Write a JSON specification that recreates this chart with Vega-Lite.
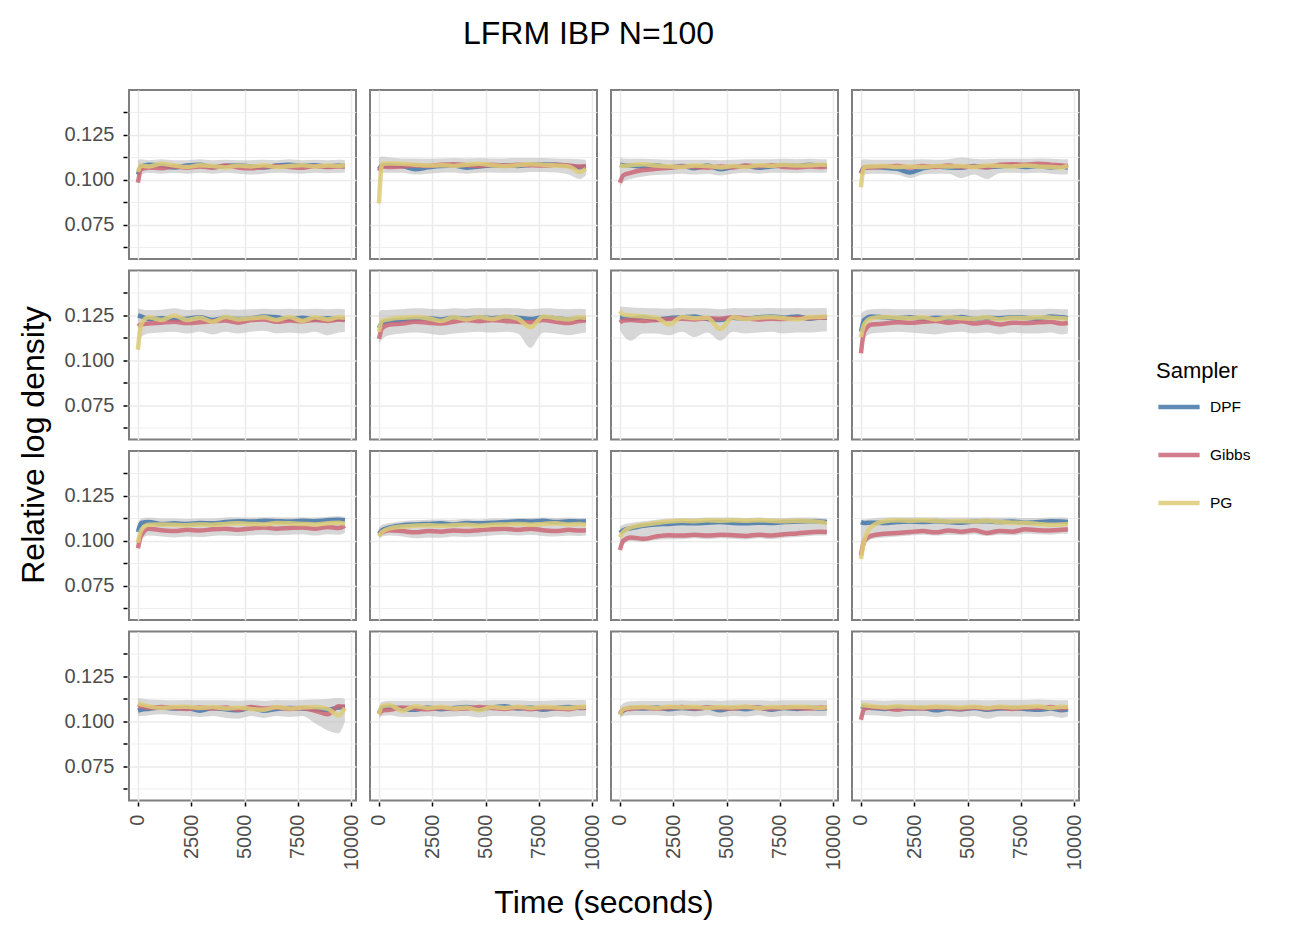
{
"$schema":"https://vega.github.io/schema/vega-lite/v6.json",
"padding":{"left":17,"top":18,"right":10,"bottom":5},
"background":"white",
"title":{"text":"LFRM IBP N=100","fontSize":32,"font":"Liberation Sans","fontWeight":"normal","color":"black","anchor":"middle","offset":38,"dx":-46},
"data":{"values":[
{"r":1,"c":1,"t":0,"DPF":0.1030,"Gibbs":0.0985,"PG":0.1045,"lo":0.0970,"hi":0.1110},
{"r":1,"c":1,"t":150,"DPF":0.1075,"Gibbs":0.1060,"PG":0.1080,"lo":0.1030,"hi":0.1115},
{"r":1,"c":1,"t":500,"DPF":0.1085,"Gibbs":0.1070,"PG":0.1075,"lo":0.1040,"hi":0.1110},
{"r":1,"c":1,"t":1100,"DPF":0.1080,"Gibbs":0.1065,"PG":0.1090,"lo":0.1035,"hi":0.1115},
{"r":1,"c":1,"t":1700,"DPF":0.1070,"Gibbs":0.1075,"PG":0.1080,"lo":0.1040,"hi":0.1110},
{"r":1,"c":1,"t":2300,"DPF":0.1080,"Gibbs":0.1068,"PG":0.1072,"lo":0.1035,"hi":0.1110},
{"r":1,"c":1,"t":2900,"DPF":0.1085,"Gibbs":0.1075,"PG":0.1082,"lo":0.1040,"hi":0.1115},
{"r":1,"c":1,"t":3500,"DPF":0.1072,"Gibbs":0.1068,"PG":0.1078,"lo":0.1035,"hi":0.1110},
{"r":1,"c":1,"t":4100,"DPF":0.1078,"Gibbs":0.1080,"PG":0.1070,"lo":0.1040,"hi":0.1112},
{"r":1,"c":1,"t":4700,"DPF":0.1082,"Gibbs":0.1070,"PG":0.1080,"lo":0.1035,"hi":0.1110},
{"r":1,"c":1,"t":5300,"DPF":0.1075,"Gibbs":0.1065,"PG":0.1075,"lo":0.1030,"hi":0.1110},
{"r":1,"c":1,"t":5900,"DPF":0.1070,"Gibbs":0.1072,"PG":0.1082,"lo":0.1035,"hi":0.1112},
{"r":1,"c":1,"t":6500,"DPF":0.1080,"Gibbs":0.1078,"PG":0.1072,"lo":0.1040,"hi":0.1110},
{"r":1,"c":1,"t":7100,"DPF":0.1085,"Gibbs":0.1072,"PG":0.1078,"lo":0.1038,"hi":0.1115},
{"r":1,"c":1,"t":7700,"DPF":0.1078,"Gibbs":0.1068,"PG":0.1082,"lo":0.1035,"hi":0.1110},
{"r":1,"c":1,"t":8300,"DPF":0.1082,"Gibbs":0.1078,"PG":0.1075,"lo":0.1040,"hi":0.1112},
{"r":1,"c":1,"t":8900,"DPF":0.1075,"Gibbs":0.1072,"PG":0.1080,"lo":0.1038,"hi":0.1110},
{"r":1,"c":1,"t":9400,"DPF":0.1080,"Gibbs":0.1075,"PG":0.1078,"lo":0.1040,"hi":0.1112},
{"r":1,"c":1,"t":9700,"DPF":0.1078,"Gibbs":0.1075,"PG":0.1082,"lo":0.1042,"hi":0.1110},
{"r":1,"c":2,"t":0,"DPF":0.1060,"Gibbs":0.1050,"PG":0.0870,"lo":0.0860,"hi":0.1120},
{"r":1,"c":2,"t":150,"DPF":0.1080,"Gibbs":0.1075,"PG":0.1090,"lo":0.1040,"hi":0.1130},
{"r":1,"c":2,"t":500,"DPF":0.1082,"Gibbs":0.1072,"PG":0.1092,"lo":0.1040,"hi":0.1125},
{"r":1,"c":2,"t":1100,"DPF":0.1078,"Gibbs":0.1075,"PG":0.1090,"lo":0.1040,"hi":0.1120},
{"r":1,"c":2,"t":1700,"DPF":0.1060,"Gibbs":0.1080,"PG":0.1085,"lo":0.1030,"hi":0.1120},
{"r":1,"c":2,"t":2300,"DPF":0.1070,"Gibbs":0.1078,"PG":0.1080,"lo":0.1035,"hi":0.1118},
{"r":1,"c":2,"t":2900,"DPF":0.1078,"Gibbs":0.1085,"PG":0.1082,"lo":0.1040,"hi":0.1120},
{"r":1,"c":2,"t":3500,"DPF":0.1080,"Gibbs":0.1088,"PG":0.1078,"lo":0.1042,"hi":0.1122},
{"r":1,"c":2,"t":4100,"DPF":0.1068,"Gibbs":0.1082,"PG":0.1085,"lo":0.1035,"hi":0.1120},
{"r":1,"c":2,"t":4700,"DPF":0.1075,"Gibbs":0.1078,"PG":0.1090,"lo":0.1040,"hi":0.1122},
{"r":1,"c":2,"t":5300,"DPF":0.1080,"Gibbs":0.1085,"PG":0.1082,"lo":0.1042,"hi":0.1120},
{"r":1,"c":2,"t":5900,"DPF":0.1082,"Gibbs":0.1080,"PG":0.1078,"lo":0.1040,"hi":0.1120},
{"r":1,"c":2,"t":6500,"DPF":0.1078,"Gibbs":0.1085,"PG":0.1082,"lo":0.1040,"hi":0.1122},
{"r":1,"c":2,"t":7100,"DPF":0.1085,"Gibbs":0.1082,"PG":0.1088,"lo":0.1045,"hi":0.1122},
{"r":1,"c":2,"t":7700,"DPF":0.1088,"Gibbs":0.1080,"PG":0.1085,"lo":0.1045,"hi":0.1122},
{"r":1,"c":2,"t":8300,"DPF":0.1085,"Gibbs":0.1085,"PG":0.1080,"lo":0.1042,"hi":0.1120},
{"r":1,"c":2,"t":8900,"DPF":0.1078,"Gibbs":0.1080,"PG":0.1075,"lo":0.1030,"hi":0.1118},
{"r":1,"c":2,"t":9400,"DPF":0.1070,"Gibbs":0.1075,"PG":0.1045,"lo":0.1005,"hi":0.1115},
{"r":1,"c":2,"t":9700,"DPF":0.1072,"Gibbs":0.1078,"PG":0.1062,"lo":0.1025,"hi":0.1112},
{"r":1,"c":3,"t":0,"DPF":0.1085,"Gibbs":0.0985,"PG":0.1080,"lo":0.0960,"hi":0.1125},
{"r":1,"c":3,"t":150,"DPF":0.1082,"Gibbs":0.1025,"PG":0.1078,"lo":0.0990,"hi":0.1120},
{"r":1,"c":3,"t":500,"DPF":0.1080,"Gibbs":0.1040,"PG":0.1082,"lo":0.1005,"hi":0.1118},
{"r":1,"c":3,"t":1100,"DPF":0.1075,"Gibbs":0.1055,"PG":0.1088,"lo":0.1020,"hi":0.1118},
{"r":1,"c":3,"t":1700,"DPF":0.1082,"Gibbs":0.1062,"PG":0.1080,"lo":0.1028,"hi":0.1115},
{"r":1,"c":3,"t":2300,"DPF":0.1070,"Gibbs":0.1068,"PG":0.1075,"lo":0.1030,"hi":0.1112},
{"r":1,"c":3,"t":2900,"DPF":0.1078,"Gibbs":0.1075,"PG":0.1072,"lo":0.1035,"hi":0.1112},
{"r":1,"c":3,"t":3500,"DPF":0.1065,"Gibbs":0.1072,"PG":0.1080,"lo":0.1030,"hi":0.1112},
{"r":1,"c":3,"t":4100,"DPF":0.1080,"Gibbs":0.1068,"PG":0.1078,"lo":0.1035,"hi":0.1112},
{"r":1,"c":3,"t":4700,"DPF":0.1060,"Gibbs":0.1075,"PG":0.1070,"lo":0.1025,"hi":0.1110},
{"r":1,"c":3,"t":5300,"DPF":0.1072,"Gibbs":0.1070,"PG":0.1078,"lo":0.1035,"hi":0.1112},
{"r":1,"c":3,"t":5900,"DPF":0.1078,"Gibbs":0.1080,"PG":0.1072,"lo":0.1040,"hi":0.1115},
{"r":1,"c":3,"t":6500,"DPF":0.1068,"Gibbs":0.1075,"PG":0.1082,"lo":0.1035,"hi":0.1115},
{"r":1,"c":3,"t":7100,"DPF":0.1075,"Gibbs":0.1082,"PG":0.1078,"lo":0.1040,"hi":0.1115},
{"r":1,"c":3,"t":7700,"DPF":0.1082,"Gibbs":0.1072,"PG":0.1085,"lo":0.1040,"hi":0.1118},
{"r":1,"c":3,"t":8300,"DPF":0.1078,"Gibbs":0.1070,"PG":0.1080,"lo":0.1038,"hi":0.1115},
{"r":1,"c":3,"t":8900,"DPF":0.1085,"Gibbs":0.1075,"PG":0.1082,"lo":0.1042,"hi":0.1118},
{"r":1,"c":3,"t":9400,"DPF":0.1080,"Gibbs":0.1072,"PG":0.1085,"lo":0.1040,"hi":0.1115},
{"r":1,"c":3,"t":9700,"DPF":0.1082,"Gibbs":0.1075,"PG":0.1083,"lo":0.1042,"hi":0.1115},
{"r":1,"c":4,"t":0,"DPF":0.1040,"Gibbs":0.1035,"PG":0.0960,"lo":0.0950,"hi":0.1110},
{"r":1,"c":4,"t":150,"DPF":0.1070,"Gibbs":0.1068,"PG":0.1072,"lo":0.1030,"hi":0.1115},
{"r":1,"c":4,"t":500,"DPF":0.1072,"Gibbs":0.1070,"PG":0.1075,"lo":0.1035,"hi":0.1112},
{"r":1,"c":4,"t":1100,"DPF":0.1068,"Gibbs":0.1075,"PG":0.1078,"lo":0.1035,"hi":0.1112},
{"r":1,"c":4,"t":1700,"DPF":0.1062,"Gibbs":0.1078,"PG":0.1072,"lo":0.1030,"hi":0.1112},
{"r":1,"c":4,"t":2300,"DPF":0.1042,"Gibbs":0.1070,"PG":0.1075,"lo":0.1010,"hi":0.1112},
{"r":1,"c":4,"t":2900,"DPF":0.1065,"Gibbs":0.1078,"PG":0.1072,"lo":0.1030,"hi":0.1115},
{"r":1,"c":4,"t":3500,"DPF":0.1075,"Gibbs":0.1072,"PG":0.1078,"lo":0.1035,"hi":0.1112},
{"r":1,"c":4,"t":4100,"DPF":0.1070,"Gibbs":0.1080,"PG":0.1075,"lo":0.1035,"hi":0.1115},
{"r":1,"c":4,"t":4700,"DPF":0.1068,"Gibbs":0.1072,"PG":0.1078,"lo":0.1010,"hi":0.1125},
{"r":1,"c":4,"t":5300,"DPF":0.1078,"Gibbs":0.1075,"PG":0.1072,"lo":0.1030,"hi":0.1118},
{"r":1,"c":4,"t":5900,"DPF":0.1072,"Gibbs":0.1070,"PG":0.1080,"lo":0.1005,"hi":0.1115},
{"r":1,"c":4,"t":6500,"DPF":0.1075,"Gibbs":0.1085,"PG":0.1078,"lo":0.1038,"hi":0.1118},
{"r":1,"c":4,"t":7100,"DPF":0.1080,"Gibbs":0.1088,"PG":0.1075,"lo":0.1040,"hi":0.1118},
{"r":1,"c":4,"t":7700,"DPF":0.1072,"Gibbs":0.1085,"PG":0.1080,"lo":0.1038,"hi":0.1118},
{"r":1,"c":4,"t":8300,"DPF":0.1078,"Gibbs":0.1090,"PG":0.1075,"lo":0.1040,"hi":0.1120},
{"r":1,"c":4,"t":8900,"DPF":0.1070,"Gibbs":0.1085,"PG":0.1072,"lo":0.1035,"hi":0.1118},
{"r":1,"c":4,"t":9400,"DPF":0.1075,"Gibbs":0.1080,"PG":0.1070,"lo":0.1030,"hi":0.1115},
{"r":1,"c":4,"t":9700,"DPF":0.1068,"Gibbs":0.1078,"PG":0.1080,"lo":0.1032,"hi":0.1115},
{"r":2,"c":1,"t":0,"DPF":0.1250,"Gibbs":0.1190,"PG":0.1060,"lo":0.1040,"hi":0.1290},
{"r":2,"c":1,"t":150,"DPF":0.1245,"Gibbs":0.1200,"PG":0.1200,"lo":0.1130,"hi":0.1285},
{"r":2,"c":1,"t":500,"DPF":0.1230,"Gibbs":0.1205,"PG":0.1240,"lo":0.1150,"hi":0.1280},
{"r":2,"c":1,"t":1100,"DPF":0.1235,"Gibbs":0.1210,"PG":0.1225,"lo":0.1155,"hi":0.1282},
{"r":2,"c":1,"t":1700,"DPF":0.1228,"Gibbs":0.1215,"PG":0.1250,"lo":0.1160,"hi":0.1290},
{"r":2,"c":1,"t":2300,"DPF":0.1232,"Gibbs":0.1208,"PG":0.1225,"lo":0.1150,"hi":0.1280},
{"r":2,"c":1,"t":2900,"DPF":0.1240,"Gibbs":0.1212,"PG":0.1238,"lo":0.1160,"hi":0.1285},
{"r":2,"c":1,"t":3500,"DPF":0.1225,"Gibbs":0.1218,"PG":0.1215,"lo":0.1145,"hi":0.1280},
{"r":2,"c":1,"t":4100,"DPF":0.1238,"Gibbs":0.1222,"PG":0.1242,"lo":0.1160,"hi":0.1285},
{"r":2,"c":1,"t":4700,"DPF":0.1230,"Gibbs":0.1210,"PG":0.1228,"lo":0.1150,"hi":0.1282},
{"r":2,"c":1,"t":5300,"DPF":0.1235,"Gibbs":0.1225,"PG":0.1235,"lo":0.1160,"hi":0.1285},
{"r":2,"c":1,"t":5900,"DPF":0.1245,"Gibbs":0.1228,"PG":0.1240,"lo":0.1165,"hi":0.1288},
{"r":2,"c":1,"t":6500,"DPF":0.1240,"Gibbs":0.1215,"PG":0.1225,"lo":0.1150,"hi":0.1285},
{"r":2,"c":1,"t":7100,"DPF":0.1230,"Gibbs":0.1222,"PG":0.1242,"lo":0.1155,"hi":0.1288},
{"r":2,"c":1,"t":7700,"DPF":0.1238,"Gibbs":0.1218,"PG":0.1220,"lo":0.1150,"hi":0.1285},
{"r":2,"c":1,"t":8300,"DPF":0.1228,"Gibbs":0.1225,"PG":0.1240,"lo":0.1160,"hi":0.1288},
{"r":2,"c":1,"t":8900,"DPF":0.1235,"Gibbs":0.1220,"PG":0.1228,"lo":0.1140,"hi":0.1285},
{"r":2,"c":1,"t":9400,"DPF":0.1230,"Gibbs":0.1228,"PG":0.1240,"lo":0.1155,"hi":0.1288},
{"r":2,"c":1,"t":9700,"DPF":0.1232,"Gibbs":0.1225,"PG":0.1238,"lo":0.1160,"hi":0.1285},
{"r":2,"c":2,"t":0,"DPF":0.1180,"Gibbs":0.1120,"PG":0.1160,"lo":0.1090,"hi":0.1270},
{"r":2,"c":2,"t":150,"DPF":0.1210,"Gibbs":0.1180,"PG":0.1220,"lo":0.1120,"hi":0.1280},
{"r":2,"c":2,"t":500,"DPF":0.1220,"Gibbs":0.1200,"PG":0.1230,"lo":0.1140,"hi":0.1282},
{"r":2,"c":2,"t":1100,"DPF":0.1225,"Gibbs":0.1205,"PG":0.1238,"lo":0.1150,"hi":0.1285},
{"r":2,"c":2,"t":1700,"DPF":0.1230,"Gibbs":0.1215,"PG":0.1242,"lo":0.1155,"hi":0.1290},
{"r":2,"c":2,"t":2300,"DPF":0.1235,"Gibbs":0.1210,"PG":0.1235,"lo":0.1150,"hi":0.1288},
{"r":2,"c":2,"t":2900,"DPF":0.1228,"Gibbs":0.1205,"PG":0.1220,"lo":0.1140,"hi":0.1285},
{"r":2,"c":2,"t":3500,"DPF":0.1238,"Gibbs":0.1215,"PG":0.1240,"lo":0.1150,"hi":0.1290},
{"r":2,"c":2,"t":4100,"DPF":0.1232,"Gibbs":0.1225,"PG":0.1228,"lo":0.1155,"hi":0.1288},
{"r":2,"c":2,"t":4700,"DPF":0.1240,"Gibbs":0.1218,"PG":0.1242,"lo":0.1160,"hi":0.1292},
{"r":2,"c":2,"t":5300,"DPF":0.1235,"Gibbs":0.1225,"PG":0.1230,"lo":0.1155,"hi":0.1290},
{"r":2,"c":2,"t":5900,"DPF":0.1242,"Gibbs":0.1220,"PG":0.1245,"lo":0.1160,"hi":0.1292},
{"r":2,"c":2,"t":6500,"DPF":0.1238,"Gibbs":0.1215,"PG":0.1232,"lo":0.1150,"hi":0.1290},
{"r":2,"c":2,"t":7100,"DPF":0.1230,"Gibbs":0.1212,"PG":0.1185,"lo":0.1070,"hi":0.1285},
{"r":2,"c":2,"t":7700,"DPF":0.1240,"Gibbs":0.1225,"PG":0.1245,"lo":0.1155,"hi":0.1290},
{"r":2,"c":2,"t":8300,"DPF":0.1235,"Gibbs":0.1215,"PG":0.1235,"lo":0.1150,"hi":0.1288},
{"r":2,"c":2,"t":8900,"DPF":0.1228,"Gibbs":0.1208,"PG":0.1228,"lo":0.1140,"hi":0.1285},
{"r":2,"c":2,"t":9400,"DPF":0.1232,"Gibbs":0.1220,"PG":0.1240,"lo":0.1150,"hi":0.1288},
{"r":2,"c":2,"t":9700,"DPF":0.1230,"Gibbs":0.1222,"PG":0.1238,"lo":0.1155,"hi":0.1285},
{"r":2,"c":3,"t":0,"DPF":0.1240,"Gibbs":0.1210,"PG":0.1275,"lo":0.1170,"hi":0.1300},
{"r":2,"c":3,"t":150,"DPF":0.1238,"Gibbs":0.1222,"PG":0.1255,"lo":0.1140,"hi":0.1298},
{"r":2,"c":3,"t":500,"DPF":0.1232,"Gibbs":0.1225,"PG":0.1250,"lo":0.1110,"hi":0.1295},
{"r":2,"c":3,"t":1100,"DPF":0.1240,"Gibbs":0.1220,"PG":0.1245,"lo":0.1150,"hi":0.1292},
{"r":2,"c":3,"t":1700,"DPF":0.1228,"Gibbs":0.1225,"PG":0.1238,"lo":0.1150,"hi":0.1290},
{"r":2,"c":3,"t":2300,"DPF":0.1235,"Gibbs":0.1230,"PG":0.1200,"lo":0.1140,"hi":0.1288},
{"r":2,"c":3,"t":2900,"DPF":0.1240,"Gibbs":0.1232,"PG":0.1242,"lo":0.1160,"hi":0.1292},
{"r":2,"c":3,"t":3500,"DPF":0.1245,"Gibbs":0.1228,"PG":0.1235,"lo":0.1130,"hi":0.1290},
{"r":2,"c":3,"t":4100,"DPF":0.1230,"Gibbs":0.1235,"PG":0.1238,"lo":0.1155,"hi":0.1290},
{"r":2,"c":3,"t":4700,"DPF":0.1225,"Gibbs":0.1232,"PG":0.1175,"lo":0.1110,"hi":0.1285},
{"r":2,"c":3,"t":5300,"DPF":0.1238,"Gibbs":0.1240,"PG":0.1240,"lo":0.1160,"hi":0.1292},
{"r":2,"c":3,"t":5900,"DPF":0.1232,"Gibbs":0.1235,"PG":0.1230,"lo":0.1150,"hi":0.1290},
{"r":2,"c":3,"t":6500,"DPF":0.1240,"Gibbs":0.1228,"PG":0.1238,"lo":0.1155,"hi":0.1290},
{"r":2,"c":3,"t":7100,"DPF":0.1245,"Gibbs":0.1232,"PG":0.1242,"lo":0.1160,"hi":0.1292},
{"r":2,"c":3,"t":7700,"DPF":0.1238,"Gibbs":0.1230,"PG":0.1235,"lo":0.1150,"hi":0.1290},
{"r":2,"c":3,"t":8300,"DPF":0.1245,"Gibbs":0.1238,"PG":0.1228,"lo":0.1155,"hi":0.1292},
{"r":2,"c":3,"t":8900,"DPF":0.1232,"Gibbs":0.1235,"PG":0.1240,"lo":0.1155,"hi":0.1290},
{"r":2,"c":3,"t":9400,"DPF":0.1240,"Gibbs":0.1238,"PG":0.1242,"lo":0.1160,"hi":0.1292},
{"r":2,"c":3,"t":9700,"DPF":0.1238,"Gibbs":0.1240,"PG":0.1245,"lo":0.1162,"hi":0.1290},
{"r":2,"c":4,"t":0,"DPF":0.1160,"Gibbs":0.1040,"PG":0.1130,"lo":0.1020,"hi":0.1260},
{"r":2,"c":4,"t":150,"DPF":0.1225,"Gibbs":0.1160,"PG":0.1200,"lo":0.1120,"hi":0.1275},
{"r":2,"c":4,"t":500,"DPF":0.1245,"Gibbs":0.1200,"PG":0.1235,"lo":0.1150,"hi":0.1285},
{"r":2,"c":4,"t":1100,"DPF":0.1240,"Gibbs":0.1205,"PG":0.1242,"lo":0.1155,"hi":0.1288},
{"r":2,"c":4,"t":1700,"DPF":0.1235,"Gibbs":0.1212,"PG":0.1238,"lo":0.1160,"hi":0.1285},
{"r":2,"c":4,"t":2300,"DPF":0.1240,"Gibbs":0.1210,"PG":0.1235,"lo":0.1155,"hi":0.1285},
{"r":2,"c":4,"t":2900,"DPF":0.1232,"Gibbs":0.1215,"PG":0.1240,"lo":0.1150,"hi":0.1285},
{"r":2,"c":4,"t":3500,"DPF":0.1238,"Gibbs":0.1220,"PG":0.1228,"lo":0.1145,"hi":0.1285},
{"r":2,"c":4,"t":4100,"DPF":0.1235,"Gibbs":0.1210,"PG":0.1240,"lo":0.1155,"hi":0.1285},
{"r":2,"c":4,"t":4700,"DPF":0.1242,"Gibbs":0.1218,"PG":0.1235,"lo":0.1160,"hi":0.1288},
{"r":2,"c":4,"t":5300,"DPF":0.1230,"Gibbs":0.1205,"PG":0.1232,"lo":0.1150,"hi":0.1282},
{"r":2,"c":4,"t":5900,"DPF":0.1238,"Gibbs":0.1212,"PG":0.1240,"lo":0.1155,"hi":0.1285},
{"r":2,"c":4,"t":6500,"DPF":0.1235,"Gibbs":0.1200,"PG":0.1228,"lo":0.1145,"hi":0.1282},
{"r":2,"c":4,"t":7100,"DPF":0.1240,"Gibbs":0.1210,"PG":0.1238,"lo":0.1155,"hi":0.1285},
{"r":2,"c":4,"t":7700,"DPF":0.1238,"Gibbs":0.1208,"PG":0.1235,"lo":0.1150,"hi":0.1285},
{"r":2,"c":4,"t":8300,"DPF":0.1232,"Gibbs":0.1212,"PG":0.1240,"lo":0.1150,"hi":0.1285},
{"r":2,"c":4,"t":8900,"DPF":0.1245,"Gibbs":0.1215,"PG":0.1238,"lo":0.1155,"hi":0.1288},
{"r":2,"c":4,"t":9400,"DPF":0.1240,"Gibbs":0.1205,"PG":0.1235,"lo":0.1145,"hi":0.1285},
{"r":2,"c":4,"t":9700,"DPF":0.1235,"Gibbs":0.1210,"PG":0.1232,"lo":0.1150,"hi":0.1285},
{"r":3,"c":1,"t":0,"DPF":0.1050,"Gibbs":0.0960,"PG":0.0990,"lo":0.0950,"hi":0.1090},
{"r":3,"c":1,"t":150,"DPF":0.1100,"Gibbs":0.1030,"PG":0.1060,"lo":0.1010,"hi":0.1125},
{"r":3,"c":1,"t":500,"DPF":0.1105,"Gibbs":0.1068,"PG":0.1090,"lo":0.1030,"hi":0.1130},
{"r":3,"c":1,"t":1100,"DPF":0.1095,"Gibbs":0.1060,"PG":0.1092,"lo":0.1025,"hi":0.1125},
{"r":3,"c":1,"t":1700,"DPF":0.1098,"Gibbs":0.1055,"PG":0.1090,"lo":0.1020,"hi":0.1125},
{"r":3,"c":1,"t":2300,"DPF":0.1095,"Gibbs":0.1062,"PG":0.1088,"lo":0.1025,"hi":0.1122},
{"r":3,"c":1,"t":2900,"DPF":0.1100,"Gibbs":0.1058,"PG":0.1092,"lo":0.1022,"hi":0.1125},
{"r":3,"c":1,"t":3500,"DPF":0.1098,"Gibbs":0.1065,"PG":0.1090,"lo":0.1028,"hi":0.1125},
{"r":3,"c":1,"t":4100,"DPF":0.1105,"Gibbs":0.1068,"PG":0.1095,"lo":0.1030,"hi":0.1130},
{"r":3,"c":1,"t":4700,"DPF":0.1110,"Gibbs":0.1062,"PG":0.1098,"lo":0.1028,"hi":0.1132},
{"r":3,"c":1,"t":5300,"DPF":0.1108,"Gibbs":0.1070,"PG":0.1095,"lo":0.1032,"hi":0.1130},
{"r":3,"c":1,"t":5900,"DPF":0.1112,"Gibbs":0.1075,"PG":0.1092,"lo":0.1035,"hi":0.1132},
{"r":3,"c":1,"t":6500,"DPF":0.1110,"Gibbs":0.1068,"PG":0.1100,"lo":0.1032,"hi":0.1132},
{"r":3,"c":1,"t":7100,"DPF":0.1108,"Gibbs":0.1072,"PG":0.1098,"lo":0.1035,"hi":0.1130},
{"r":3,"c":1,"t":7700,"DPF":0.1112,"Gibbs":0.1075,"PG":0.1095,"lo":0.1038,"hi":0.1132},
{"r":3,"c":1,"t":8300,"DPF":0.1110,"Gibbs":0.1068,"PG":0.1092,"lo":0.1030,"hi":0.1130},
{"r":3,"c":1,"t":8900,"DPF":0.1115,"Gibbs":0.1078,"PG":0.1098,"lo":0.1038,"hi":0.1135},
{"r":3,"c":1,"t":9400,"DPF":0.1118,"Gibbs":0.1072,"PG":0.1102,"lo":0.1035,"hi":0.1138},
{"r":3,"c":1,"t":9700,"DPF":0.1115,"Gibbs":0.1085,"PG":0.1095,"lo":0.1045,"hi":0.1135},
{"r":3,"c":2,"t":0,"DPF":0.1040,"Gibbs":0.1035,"PG":0.1025,"lo":0.1015,"hi":0.1075},
{"r":3,"c":2,"t":150,"DPF":0.1060,"Gibbs":0.1048,"PG":0.1050,"lo":0.1025,"hi":0.1090},
{"r":3,"c":2,"t":500,"DPF":0.1075,"Gibbs":0.1060,"PG":0.1070,"lo":0.1030,"hi":0.1100},
{"r":3,"c":2,"t":1100,"DPF":0.1088,"Gibbs":0.1055,"PG":0.1080,"lo":0.1025,"hi":0.1110},
{"r":3,"c":2,"t":1700,"DPF":0.1092,"Gibbs":0.1048,"PG":0.1085,"lo":0.1015,"hi":0.1115},
{"r":3,"c":2,"t":2300,"DPF":0.1095,"Gibbs":0.1055,"PG":0.1088,"lo":0.1020,"hi":0.1118},
{"r":3,"c":2,"t":2900,"DPF":0.1098,"Gibbs":0.1052,"PG":0.1085,"lo":0.1018,"hi":0.1120},
{"r":3,"c":2,"t":3500,"DPF":0.1092,"Gibbs":0.1058,"PG":0.1088,"lo":0.1025,"hi":0.1118},
{"r":3,"c":2,"t":4100,"DPF":0.1100,"Gibbs":0.1055,"PG":0.1090,"lo":0.1022,"hi":0.1122},
{"r":3,"c":2,"t":4700,"DPF":0.1098,"Gibbs":0.1060,"PG":0.1085,"lo":0.1025,"hi":0.1120},
{"r":3,"c":2,"t":5300,"DPF":0.1102,"Gibbs":0.1065,"PG":0.1090,"lo":0.1030,"hi":0.1125},
{"r":3,"c":2,"t":5900,"DPF":0.1105,"Gibbs":0.1068,"PG":0.1092,"lo":0.1035,"hi":0.1125},
{"r":3,"c":2,"t":6500,"DPF":0.1110,"Gibbs":0.1062,"PG":0.1095,"lo":0.1030,"hi":0.1128},
{"r":3,"c":2,"t":7100,"DPF":0.1108,"Gibbs":0.1068,"PG":0.1090,"lo":0.1035,"hi":0.1128},
{"r":3,"c":2,"t":7700,"DPF":0.1112,"Gibbs":0.1060,"PG":0.1095,"lo":0.1028,"hi":0.1130},
{"r":3,"c":2,"t":8300,"DPF":0.1105,"Gibbs":0.1055,"PG":0.1098,"lo":0.1025,"hi":0.1128},
{"r":3,"c":2,"t":8900,"DPF":0.1110,"Gibbs":0.1062,"PG":0.1092,"lo":0.1030,"hi":0.1130},
{"r":3,"c":2,"t":9400,"DPF":0.1108,"Gibbs":0.1058,"PG":0.1095,"lo":0.1028,"hi":0.1128},
{"r":3,"c":2,"t":9700,"DPF":0.1110,"Gibbs":0.1060,"PG":0.1090,"lo":0.1030,"hi":0.1128},
{"r":3,"c":3,"t":0,"DPF":0.1045,"Gibbs":0.0950,"PG":0.1020,"lo":0.0940,"hi":0.1080},
{"r":3,"c":3,"t":150,"DPF":0.1060,"Gibbs":0.1000,"PG":0.1050,"lo":0.0980,"hi":0.1090},
{"r":3,"c":3,"t":500,"DPF":0.1070,"Gibbs":0.1020,"PG":0.1075,"lo":0.1000,"hi":0.1100},
{"r":3,"c":3,"t":1100,"DPF":0.1085,"Gibbs":0.1012,"PG":0.1090,"lo":0.0995,"hi":0.1110},
{"r":3,"c":3,"t":1700,"DPF":0.1092,"Gibbs":0.1025,"PG":0.1100,"lo":0.1005,"hi":0.1118},
{"r":3,"c":3,"t":2300,"DPF":0.1095,"Gibbs":0.1032,"PG":0.1108,"lo":0.1010,"hi":0.1125},
{"r":3,"c":3,"t":2900,"DPF":0.1100,"Gibbs":0.1030,"PG":0.1112,"lo":0.1010,"hi":0.1128},
{"r":3,"c":3,"t":3500,"DPF":0.1098,"Gibbs":0.1035,"PG":0.1110,"lo":0.1015,"hi":0.1128},
{"r":3,"c":3,"t":4100,"DPF":0.1102,"Gibbs":0.1030,"PG":0.1115,"lo":0.1010,"hi":0.1130},
{"r":3,"c":3,"t":4700,"DPF":0.1105,"Gibbs":0.1035,"PG":0.1112,"lo":0.1015,"hi":0.1130},
{"r":3,"c":3,"t":5300,"DPF":0.1100,"Gibbs":0.1032,"PG":0.1115,"lo":0.1012,"hi":0.1130},
{"r":3,"c":3,"t":5900,"DPF":0.1098,"Gibbs":0.1028,"PG":0.1112,"lo":0.1008,"hi":0.1128},
{"r":3,"c":3,"t":6500,"DPF":0.1102,"Gibbs":0.1035,"PG":0.1115,"lo":0.1015,"hi":0.1130},
{"r":3,"c":3,"t":7100,"DPF":0.1100,"Gibbs":0.1030,"PG":0.1112,"lo":0.1010,"hi":0.1128},
{"r":3,"c":3,"t":7700,"DPF":0.1105,"Gibbs":0.1038,"PG":0.1110,"lo":0.1018,"hi":0.1128},
{"r":3,"c":3,"t":8300,"DPF":0.1108,"Gibbs":0.1042,"PG":0.1112,"lo":0.1022,"hi":0.1130},
{"r":3,"c":3,"t":8900,"DPF":0.1110,"Gibbs":0.1048,"PG":0.1110,"lo":0.1028,"hi":0.1130},
{"r":3,"c":3,"t":9400,"DPF":0.1108,"Gibbs":0.1052,"PG":0.1105,"lo":0.1030,"hi":0.1128},
{"r":3,"c":3,"t":9700,"DPF":0.1105,"Gibbs":0.1050,"PG":0.1098,"lo":0.1030,"hi":0.1125},
{"r":3,"c":4,"t":0,"DPF":0.1105,"Gibbs":0.0920,"PG":0.0900,"lo":0.0890,"hi":0.1120},
{"r":3,"c":4,"t":150,"DPF":0.1100,"Gibbs":0.1000,"PG":0.1000,"lo":0.0960,"hi":0.1120},
{"r":3,"c":4,"t":500,"DPF":0.1102,"Gibbs":0.1030,"PG":0.1080,"lo":0.1010,"hi":0.1125},
{"r":3,"c":4,"t":1100,"DPF":0.1100,"Gibbs":0.1040,"PG":0.1110,"lo":0.1020,"hi":0.1130},
{"r":3,"c":4,"t":1700,"DPF":0.1105,"Gibbs":0.1045,"PG":0.1115,"lo":0.1025,"hi":0.1132},
{"r":3,"c":4,"t":2300,"DPF":0.1108,"Gibbs":0.1050,"PG":0.1112,"lo":0.1030,"hi":0.1132},
{"r":3,"c":4,"t":2900,"DPF":0.1105,"Gibbs":0.1055,"PG":0.1115,"lo":0.1035,"hi":0.1132},
{"r":3,"c":4,"t":3500,"DPF":0.1110,"Gibbs":0.1048,"PG":0.1112,"lo":0.1030,"hi":0.1132},
{"r":3,"c":4,"t":4100,"DPF":0.1105,"Gibbs":0.1058,"PG":0.1108,"lo":0.1035,"hi":0.1130},
{"r":3,"c":4,"t":4700,"DPF":0.1102,"Gibbs":0.1052,"PG":0.1110,"lo":0.1032,"hi":0.1130},
{"r":3,"c":4,"t":5300,"DPF":0.1108,"Gibbs":0.1060,"PG":0.1108,"lo":0.1038,"hi":0.1130},
{"r":3,"c":4,"t":5900,"DPF":0.1110,"Gibbs":0.1045,"PG":0.1112,"lo":0.1028,"hi":0.1132},
{"r":3,"c":4,"t":6500,"DPF":0.1105,"Gibbs":0.1055,"PG":0.1105,"lo":0.1035,"hi":0.1130},
{"r":3,"c":4,"t":7100,"DPF":0.1108,"Gibbs":0.1052,"PG":0.1102,"lo":0.1032,"hi":0.1130},
{"r":3,"c":4,"t":7700,"DPF":0.1102,"Gibbs":0.1065,"PG":0.1100,"lo":0.1040,"hi":0.1128},
{"r":3,"c":4,"t":8300,"DPF":0.1105,"Gibbs":0.1060,"PG":0.1095,"lo":0.1038,"hi":0.1128},
{"r":3,"c":4,"t":8900,"DPF":0.1110,"Gibbs":0.1058,"PG":0.1090,"lo":0.1035,"hi":0.1130},
{"r":3,"c":4,"t":9400,"DPF":0.1108,"Gibbs":0.1062,"PG":0.1092,"lo":0.1040,"hi":0.1130},
{"r":3,"c":4,"t":9700,"DPF":0.1105,"Gibbs":0.1065,"PG":0.1095,"lo":0.1042,"hi":0.1128},
{"r":4,"c":1,"t":0,"DPF":0.1060,"Gibbs":0.1080,"PG":0.1100,"lo":0.1030,"hi":0.1130},
{"r":4,"c":1,"t":150,"DPF":0.1065,"Gibbs":0.1085,"PG":0.1095,"lo":0.1030,"hi":0.1128},
{"r":4,"c":1,"t":500,"DPF":0.1070,"Gibbs":0.1075,"PG":0.1085,"lo":0.1035,"hi":0.1122},
{"r":4,"c":1,"t":1100,"DPF":0.1078,"Gibbs":0.1080,"PG":0.1075,"lo":0.1040,"hi":0.1120},
{"r":4,"c":1,"t":1700,"DPF":0.1072,"Gibbs":0.1075,"PG":0.1080,"lo":0.1035,"hi":0.1118},
{"r":4,"c":1,"t":2300,"DPF":0.1075,"Gibbs":0.1070,"PG":0.1082,"lo":0.1030,"hi":0.1120},
{"r":4,"c":1,"t":2900,"DPF":0.1060,"Gibbs":0.1078,"PG":0.1075,"lo":0.1025,"hi":0.1118},
{"r":4,"c":1,"t":3500,"DPF":0.1075,"Gibbs":0.1072,"PG":0.1080,"lo":0.1030,"hi":0.1118},
{"r":4,"c":1,"t":4100,"DPF":0.1068,"Gibbs":0.1078,"PG":0.1072,"lo":0.1020,"hi":0.1118},
{"r":4,"c":1,"t":4700,"DPF":0.1062,"Gibbs":0.1065,"PG":0.1078,"lo":0.1015,"hi":0.1115},
{"r":4,"c":1,"t":5300,"DPF":0.1075,"Gibbs":0.1080,"PG":0.1070,"lo":0.1030,"hi":0.1118},
{"r":4,"c":1,"t":5900,"DPF":0.1060,"Gibbs":0.1072,"PG":0.1065,"lo":0.1020,"hi":0.1115},
{"r":4,"c":1,"t":6500,"DPF":0.1070,"Gibbs":0.1078,"PG":0.1080,"lo":0.1030,"hi":0.1120},
{"r":4,"c":1,"t":7100,"DPF":0.1075,"Gibbs":0.1070,"PG":0.1072,"lo":0.1025,"hi":0.1118},
{"r":4,"c":1,"t":7700,"DPF":0.1072,"Gibbs":0.1075,"PG":0.1078,"lo":0.1030,"hi":0.1120},
{"r":4,"c":1,"t":8300,"DPF":0.1068,"Gibbs":0.1060,"PG":0.1080,"lo":0.0990,"hi":0.1122},
{"r":4,"c":1,"t":8900,"DPF":0.1065,"Gibbs":0.1040,"PG":0.1070,"lo":0.0950,"hi":0.1125},
{"r":4,"c":1,"t":9400,"DPF":0.1078,"Gibbs":0.1085,"PG":0.1035,"lo":0.0935,"hi":0.1130},
{"r":4,"c":1,"t":9700,"DPF":0.1080,"Gibbs":0.1082,"PG":0.1075,"lo":0.1000,"hi":0.1125},
{"r":4,"c":2,"t":0,"DPF":0.1045,"Gibbs":0.1040,"PG":0.1040,"lo":0.1020,"hi":0.1085},
{"r":4,"c":2,"t":150,"DPF":0.1075,"Gibbs":0.1060,"PG":0.1085,"lo":0.1030,"hi":0.1110},
{"r":4,"c":2,"t":500,"DPF":0.1080,"Gibbs":0.1065,"PG":0.1090,"lo":0.1035,"hi":0.1115},
{"r":4,"c":2,"t":1100,"DPF":0.1070,"Gibbs":0.1078,"PG":0.1060,"lo":0.1025,"hi":0.1115},
{"r":4,"c":2,"t":1700,"DPF":0.1065,"Gibbs":0.1072,"PG":0.1085,"lo":0.1025,"hi":0.1115},
{"r":4,"c":2,"t":2300,"DPF":0.1078,"Gibbs":0.1068,"PG":0.1075,"lo":0.1030,"hi":0.1115},
{"r":4,"c":2,"t":2900,"DPF":0.1068,"Gibbs":0.1075,"PG":0.1080,"lo":0.1025,"hi":0.1115},
{"r":4,"c":2,"t":3500,"DPF":0.1075,"Gibbs":0.1070,"PG":0.1072,"lo":0.1028,"hi":0.1115},
{"r":4,"c":2,"t":4100,"DPF":0.1080,"Gibbs":0.1072,"PG":0.1078,"lo":0.1030,"hi":0.1118},
{"r":4,"c":2,"t":4700,"DPF":0.1070,"Gibbs":0.1080,"PG":0.1062,"lo":0.1022,"hi":0.1115},
{"r":4,"c":2,"t":5300,"DPF":0.1078,"Gibbs":0.1075,"PG":0.1080,"lo":0.1030,"hi":0.1118},
{"r":4,"c":2,"t":5900,"DPF":0.1085,"Gibbs":0.1070,"PG":0.1075,"lo":0.1030,"hi":0.1118},
{"r":4,"c":2,"t":6500,"DPF":0.1072,"Gibbs":0.1078,"PG":0.1082,"lo":0.1028,"hi":0.1118},
{"r":4,"c":2,"t":7100,"DPF":0.1078,"Gibbs":0.1068,"PG":0.1075,"lo":0.1025,"hi":0.1115},
{"r":4,"c":2,"t":7700,"DPF":0.1065,"Gibbs":0.1075,"PG":0.1080,"lo":0.1020,"hi":0.1115},
{"r":4,"c":2,"t":8300,"DPF":0.1075,"Gibbs":0.1072,"PG":0.1078,"lo":0.1028,"hi":0.1118},
{"r":4,"c":2,"t":8900,"DPF":0.1080,"Gibbs":0.1068,"PG":0.1075,"lo":0.1025,"hi":0.1118},
{"r":4,"c":2,"t":9400,"DPF":0.1075,"Gibbs":0.1078,"PG":0.1080,"lo":0.1030,"hi":0.1120},
{"r":4,"c":2,"t":9700,"DPF":0.1078,"Gibbs":0.1075,"PG":0.1082,"lo":0.1032,"hi":0.1118},
{"r":4,"c":3,"t":0,"DPF":0.1040,"Gibbs":0.1045,"PG":0.1035,"lo":0.1020,"hi":0.1080},
{"r":4,"c":3,"t":150,"DPF":0.1060,"Gibbs":0.1065,"PG":0.1068,"lo":0.1030,"hi":0.1100},
{"r":4,"c":3,"t":500,"DPF":0.1075,"Gibbs":0.1070,"PG":0.1078,"lo":0.1035,"hi":0.1112},
{"r":4,"c":3,"t":1100,"DPF":0.1072,"Gibbs":0.1078,"PG":0.1080,"lo":0.1035,"hi":0.1115},
{"r":4,"c":3,"t":1700,"DPF":0.1078,"Gibbs":0.1072,"PG":0.1075,"lo":0.1035,"hi":0.1115},
{"r":4,"c":3,"t":2300,"DPF":0.1068,"Gibbs":0.1075,"PG":0.1082,"lo":0.1030,"hi":0.1115},
{"r":4,"c":3,"t":2900,"DPF":0.1075,"Gibbs":0.1080,"PG":0.1078,"lo":0.1035,"hi":0.1118},
{"r":4,"c":3,"t":3500,"DPF":0.1070,"Gibbs":0.1072,"PG":0.1082,"lo":0.1028,"hi":0.1115},
{"r":4,"c":3,"t":4100,"DPF":0.1078,"Gibbs":0.1078,"PG":0.1075,"lo":0.1035,"hi":0.1118},
{"r":4,"c":3,"t":4700,"DPF":0.1062,"Gibbs":0.1075,"PG":0.1080,"lo":0.1025,"hi":0.1115},
{"r":4,"c":3,"t":5300,"DPF":0.1075,"Gibbs":0.1072,"PG":0.1078,"lo":0.1030,"hi":0.1118},
{"r":4,"c":3,"t":5900,"DPF":0.1068,"Gibbs":0.1080,"PG":0.1082,"lo":0.1028,"hi":0.1118},
{"r":4,"c":3,"t":6500,"DPF":0.1078,"Gibbs":0.1075,"PG":0.1075,"lo":0.1035,"hi":0.1118},
{"r":4,"c":3,"t":7100,"DPF":0.1065,"Gibbs":0.1072,"PG":0.1080,"lo":0.1025,"hi":0.1115},
{"r":4,"c":3,"t":7700,"DPF":0.1075,"Gibbs":0.1078,"PG":0.1078,"lo":0.1032,"hi":0.1118},
{"r":4,"c":3,"t":8300,"DPF":0.1070,"Gibbs":0.1075,"PG":0.1082,"lo":0.1030,"hi":0.1118},
{"r":4,"c":3,"t":8900,"DPF":0.1078,"Gibbs":0.1072,"PG":0.1080,"lo":0.1032,"hi":0.1118},
{"r":4,"c":3,"t":9400,"DPF":0.1072,"Gibbs":0.1078,"PG":0.1075,"lo":0.1030,"hi":0.1118},
{"r":4,"c":3,"t":9700,"DPF":0.1075,"Gibbs":0.1075,"PG":0.1080,"lo":0.1032,"hi":0.1118},
{"r":4,"c":4,"t":0,"DPF":0.1085,"Gibbs":0.1010,"PG":0.1090,"lo":0.0995,"hi":0.1120},
{"r":4,"c":4,"t":150,"DPF":0.1080,"Gibbs":0.1070,"PG":0.1090,"lo":0.1035,"hi":0.1118},
{"r":4,"c":4,"t":500,"DPF":0.1075,"Gibbs":0.1078,"PG":0.1085,"lo":0.1035,"hi":0.1118},
{"r":4,"c":4,"t":1100,"DPF":0.1070,"Gibbs":0.1075,"PG":0.1078,"lo":0.1030,"hi":0.1115},
{"r":4,"c":4,"t":1700,"DPF":0.1078,"Gibbs":0.1065,"PG":0.1085,"lo":0.1025,"hi":0.1118},
{"r":4,"c":4,"t":2300,"DPF":0.1072,"Gibbs":0.1075,"PG":0.1080,"lo":0.1030,"hi":0.1118},
{"r":4,"c":4,"t":2900,"DPF":0.1075,"Gibbs":0.1072,"PG":0.1078,"lo":0.1030,"hi":0.1118},
{"r":4,"c":4,"t":3500,"DPF":0.1062,"Gibbs":0.1078,"PG":0.1082,"lo":0.1025,"hi":0.1118},
{"r":4,"c":4,"t":4100,"DPF":0.1072,"Gibbs":0.1075,"PG":0.1080,"lo":0.1030,"hi":0.1118},
{"r":4,"c":4,"t":4700,"DPF":0.1068,"Gibbs":0.1070,"PG":0.1078,"lo":0.1025,"hi":0.1118},
{"r":4,"c":4,"t":5300,"DPF":0.1075,"Gibbs":0.1078,"PG":0.1082,"lo":0.1030,"hi":0.1120},
{"r":4,"c":4,"t":5900,"DPF":0.1065,"Gibbs":0.1072,"PG":0.1075,"lo":0.1015,"hi":0.1118},
{"r":4,"c":4,"t":6500,"DPF":0.1072,"Gibbs":0.1078,"PG":0.1082,"lo":0.1028,"hi":0.1120},
{"r":4,"c":4,"t":7100,"DPF":0.1075,"Gibbs":0.1070,"PG":0.1078,"lo":0.1028,"hi":0.1120},
{"r":4,"c":4,"t":7700,"DPF":0.1070,"Gibbs":0.1078,"PG":0.1080,"lo":0.1028,"hi":0.1120},
{"r":4,"c":4,"t":8300,"DPF":0.1065,"Gibbs":0.1075,"PG":0.1085,"lo":0.1025,"hi":0.1122},
{"r":4,"c":4,"t":8900,"DPF":0.1072,"Gibbs":0.1080,"PG":0.1075,"lo":0.1030,"hi":0.1120},
{"r":4,"c":4,"t":9400,"DPF":0.1062,"Gibbs":0.1072,"PG":0.1082,"lo":0.1020,"hi":0.1118},
{"r":4,"c":4,"t":9700,"DPF":0.1068,"Gibbs":0.1078,"PG":0.1080,"lo":0.1028,"hi":0.1120}
]},
"facet":{
 "row":{"field":"r","type":"ordinal","header":{"labels":false,"title":"Relative log density","titleOrient":"left","titlePadding":2}},
 "column":{"field":"c","type":"ordinal","header":{"labels":false,"title":"Time (seconds)","titleOrient":"bottom","titlePadding":8}}
},
"spacing":{"row":9.5,"column":11},
"spec":{
 "width":227,"height":169,
 "resolve":{"axis":{"y":"independent"}},
 "layer":[
  {"mark":{"type":"area","interpolate":"monotone","fill":"#bdbdbd","opacity":0.6},
   "encoding":{
    "x":{"field":"t","type":"quantitative","scale":{"domain":[-420,10220],"nice":false,"zero":false},
     "axis":{"title":null,"values":[0,1250,2500,3750,5000,6250,7500,8750,10000],"format":"d","labelExpr":"datum.value % 2500 === 0 ? datum.label : ''","labelAngle":-90,"labelAlign":"right","labelBaseline":"middle","labelPadding":8,"labelOverlap":false,"labelFlush":false,"gridWidth":{"condition":{"test":"datum.value % 2500 === 0","value":1.5},"value":0.8}}},
    "y":{"field":"lo","type":"quantitative","scale":{"domain":[0.0561,0.15],"nice":false,"zero":false},
     "axis":{"title":null,"values":[0.075,0.1,0.125],"format":".3f","labelPadding":9,"labelOverlap":false,"labelFlush":false,"gridWidth":1.5}},
    "y2":{"field":"hi"}
   }},
  {"transform":[{"fold":["DPF","Gibbs","PG"],"as":["s","v"]}],
   "mark":{"type":"line","interpolate":"monotone","strokeWidth":4.5,"opacity":0.85},
   "encoding":{
    "x":{"field":"t","type":"quantitative"},
    "y":{"field":"v","type":"quantitative","axis":{"title":null,"orient":"left","values":[0.0625,0.0875,0.1125,0.1375],"labels":false,"ticks":true,"domain":false,"grid":true,"gridWidth":0.8}},
    "color":{"field":"s","type":"nominal","title":"Sampler","scale":{"domain":["DPF","Gibbs","PG"],"range":["#4477AA","#CC6677","#DDCC77"]}}
   }}
 ]
},
"config":{
 "view":{"stroke":"#7f7f7f","strokeWidth":2},
 "header":{"titleFont":"Liberation Sans","titleFontSize":32,"titleFontWeight":"normal","titleColor":"black"},
 "axis":{"labelFont":"Liberation Sans","labelFontSize":20,"labelColor":"#4d4d4d","tickColor":"black","tickWidth":1.5,"tickSize":4,"domain":false,"gridColor":"#ebebeb"},
 "legend":{"orient":"none","legendX":1027,"legendY":271,"titleFont":"Liberation Sans","titleFontSize":22,"titleFontWeight":"normal","titleColor":"black","labelFont":"Liberation Sans","labelFontSize":15.5,"labelColor":"black","symbolType":"stroke","symbolSize":1700,"symbolStrokeWidth":4.5,"rowPadding":16,"titlePadding":1,"labelOffset":8}
}
}
